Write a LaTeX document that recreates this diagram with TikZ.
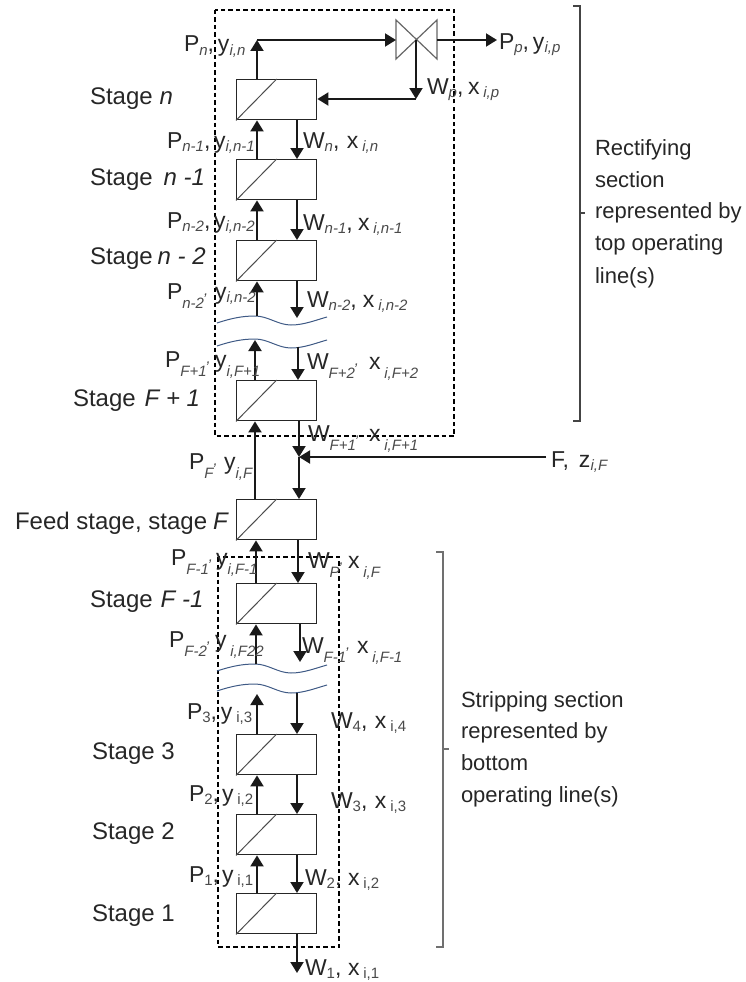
\documentclass[tikz,border=0pt]{standalone}
\usepackage{fontspec}
\setmainfont{Liberation Sans}
\usetikzlibrary{arrows.meta}
\definecolor{ink}{HTML}{262626}
\definecolor{subc}{HTML}{4A4A4A}
\definecolor{wavec}{HTML}{3F5A85}
\definecolor{bracec}{HTML}{444444}
\definecolor{bracel}{HTML}{707070}
\newcommand{\subfont}{\fontsize{15}{17}\selectfont\color{subc}}
\newcommand{\sbi}[1]{\raisebox{-0.32ex}{\subfont\itshape #1}}
\newcommand{\sbl}[1]{\raisebox{-0.75ex}{\subfont\itshape #1}}
\newcommand{\sbu}[1]{\raisebox{-0.32ex}{\subfont #1}}
\newcommand{\rcomma}{\raisebox{0.3ex}{\subfont\itshape ,}}
\newcommand{\pair}[3]{\makebox[#1pt][l]{#2}#3}
\tikzset{
  lbl/.style={anchor=base west,inner sep=0pt,outer sep=0pt,text=ink,font=\fontsize{23}{26}\selectfont},
  stagelbl/.style={lbl,font=\fontsize{24}{27}\selectfont},
  txt/.style={lbl,font=\fontsize{22}{25}\selectfont},
  stagebox/.style={draw=black!85,line width=1.4pt,fill=white,inner sep=0pt,minimum width=80pt,minimum height=40pt,anchor=north west},
  flow/.style={draw=black!90,line width=1.9pt,-{Triangle[length=11pt,width=13pt]}},
  dashbox/.style={draw=black,line width=1.2pt,dash pattern=on 4.5pt off 3pt},
  wave/.style={draw=wavec,line width=1pt},
  brace/.style={draw=bracec,line width=1.2pt},
  bracelight/.style={draw=bracel,line width=1.2pt},
  valve/.style={draw=black!60,line width=1.2pt,fill=white}
}
\begin{document}
\begin{tikzpicture}[x=1pt,y=-1pt]
\useasboundingbox (0,0) rectangle (746,982);
% x guides
\coordinate (U) at (257,0);
\coordinate (D) at (297,0);
% section frames
\draw[dashbox] (215,10) rectangle (454,436);
\draw[dashbox] (218,557) rectangle (339,947);
% stages
\foreach \nm/\yy in {bn/79,bna/159,bnb/240,bf1/380,bf/499,bfa/583,bc/734,bb/814,ba/893}{
  \node[stagebox] (\nm) at (236,\yy) {};
  \draw[line width=1pt,draw=black!70] (\nm.south west) -- (\nm.north);
}
% breaks
\foreach \o in {0,23,348,368}{
  \draw[wave,yshift=-\o pt] (217,323) .. controls (232,318) and (243,316) .. (255,316)
     .. controls (268,316) and (278,325) .. (291,325)
     .. controls (304,325) and (316,320) .. (327,317);
}
% valve
\coordinate (vc) at (416,40);
\coordinate (vl) at (396,40);
\coordinate (vr) at (437,40);
\draw[valve] (396,20) -- (437,59) -- (437,20) -- (396,59) -- cycle;
% junction coordinates
\coordinate (top) at (257,40);
\coordinate (ref) at (416,99);
\coordinate (ppend) at (497,40);
\coordinate (w1end) at (297,973);
\coordinate (fj) at (299,457);
\coordinate (fin) at (546,457);
\coordinate (w1) at (257,316);
\coordinate (w2) at (297,318);
\coordinate (w3) at (255,340);
\coordinate (w4) at (298,347);
\coordinate (w5) at (256,664);
\coordinate (w6) at (300,662);
\coordinate (w7) at (257,694);
\coordinate (w8) at (297,693);
% top connections
\draw[flow] (bn.north -| U) -- (top);
\draw[flow] (top) -- (vl);
\draw[flow] (vr) -- (ppend);
\draw[flow] (vc) -- (ref);
\draw[flow] (ref) -- (bn.east |- ref);
% rectifying
\draw[flow] (bna.north -| U) -- (bn.south -| U);
\draw[flow] (bn.south -| D) -- (bna.north -| D);
\draw[flow] (bnb.north -| U) -- (bna.south -| U);
\draw[flow] (bna.south -| D) -- (bnb.north -| D);
\draw[flow] (w1) -- (bnb.south -| U);
\draw[flow] (bnb.south -| D) -- (w2);
\draw[flow] (bf1.north -| w3) -- (w3);
\draw[flow] (w4) -- (bf1.north -| w4);
% feed
\draw[flow] (bf.north -| w3) -- (bf1.south -| w3);
\draw[flow] (bf1.south -| fj) -- (fj);
\draw[flow] (fj) -- (bf.north -| fj);
\draw[flow] (fin) -- (fj);
% stripping
\draw[flow] (bfa.north -| w5) -- (bf.south -| w5);
\draw[flow] (bf.south -| w4) -- (bfa.north -| w4);
\draw[flow] (w5) -- (bfa.south -| w5);
\draw[flow] (bfa.south -| w6) -- (w6);
\draw[flow] (bc.north -| U) -- (w7);
\draw[flow] (w8) -- (bc.north -| D);
\draw[flow] (bb.north -| U) -- (bc.south -| U);
\draw[flow] (bc.south -| D) -- (bb.north -| D);
\draw[flow] (ba.north -| U) -- (bb.south -| U);
\draw[flow] (bb.south -| D) -- (ba.north -| D);
\draw[flow] (ba.south -| D) -- (w1end);
% brackets
\draw[brace] (573,6) -- (580,6) -- (580,421) -- (573,421);
\draw[brace] (580,213) -- (585,213);
\draw[bracelight] (436,552) -- (443,552) -- (443,947) -- (436,947);
\draw[bracelight] (443,749) -- (449,749);
% stage names
\node[stagelbl] (sn)  at (90,104) {Stage\hspace{7pt}\textit{n}};
\node[stagelbl] (sna) at (90,185) {Stage\hspace{11pt}\textit{n -1}};
\node[stagelbl] (snb) at (90,264) {Stage\hspace{5pt}\textit{n - 2}};
\node[stagelbl] (sf1) at (73,406) {Stage\hspace{9pt}\textit{F + 1}};
\node[stagelbl] (sf)  at (15,529) {Feed stage, stage\hspace{6pt}\textit{F}};
\node[stagelbl] (sfa) at (90,607) {Stage\hspace{8pt}\textit{F -1}};
\node[stagelbl] (s3)  at (92,759) {Stage 3};
\node[stagelbl] (s2)  at (92,839) {Stage 2};
\node[stagelbl] (s1)  at (92,921) {Stage 1};
% vapour labels
\node[lbl] (pn)  at (184,52)  {\pair{34}{P\sbi{n},}{y\sbi{i,n}}};
\node[lbl] (pna) at (167,148) {\pair{47}{P\sbi{n-1},}{y\sbi{i,n-1}}};
\node[lbl] (pnb) at (167,228) {\pair{47}{P\sbi{n-2},}{y\sbi{i,n-2}}};
\node[lbl] (pnc) at (167,299) {\pair{48}{P\sbl{n-2}\rcomma}{y\sbi{i,n-2}}};
\node[lbl] (pf1) at (165,367) {\pair{50}{P\sbl{F+1}\rcomma}{y\sbl{i,F+1}}};
\node[lbl] (pf)  at (189,469) {\pair{35}{P\sbl{F}\rcomma}{y\sbl{i,F}}};
\node[lbl] (pfa) at (171,565) {\pair{45}{P\sbl{F-1}\rcomma}{y\sbl{i,F-1}}};
\node[lbl] (pfb) at (169,647) {\pair{46}{P\sbl{F-2}\rcomma}{y\,\sbl{i,F22}}};
\node[lbl] (p3)  at (187,719) {\pair{34}{P\sbu{3},}{y\,\sbu{i,3}}};
\node[lbl] (p2)  at (189,801) {\pair{33}{P\sbu{2},}{y\,\sbu{i,2}}};
\node[lbl] (p1)  at (189,882) {\pair{33}{P\sbu{1},}{y\,\sbu{i,1}}};
% liquid labels
\node[lbl] (wp)  at (427,94)  {\pair{41}{W\sbi{p},}{x\,\sbi{i,p}}};
\node[lbl] (wn)  at (303,148) {\pair{44}{W\sbi{n},}{x\,\sbi{i,n}}};
\node[lbl] (wna) at (303,230) {\pair{55}{W\sbi{n-1},}{x\,\sbi{i,n-1}}};
\node[lbl] (wnb) at (307,307) {\pair{56}{W\sbi{n-2},}{x\,\sbi{i,n-2}}};
\node[lbl] (wf2) at (307,369) {\pair{62}{W\sbl{F+2}\rcomma}{x\,\sbl{i,F+2}}};
\node[lbl] (wf1) at (308,441) {\pair{61}{W\sbl{F+1}\rcomma}{x\,\sbl{i,F+1}}};
\node[lbl] (wf)  at (308,568) {\pair{40}{W\sbl{P}\rcomma}{x\,\sbl{i,F}}};
\node[lbl] (wfa) at (302,653) {\pair{55}{W\sbl{F-1}\rcomma}{x\,\sbl{i,F-1}}};
\node[lbl] (w4l) at (331,728) {\pair{44}{W\sbu{4},}{x\,\sbu{i,4}}};
\node[lbl] (w3l) at (331,808) {\pair{44}{W\sbu{3},}{x\,\sbu{i,3}}};
\node[lbl] (w2l) at (305,885) {\pair{43}{W\sbu{2},}{x\,\sbu{i,2}}};
\node[lbl] (w1l) at (305,975) {\pair{43}{W\sbu{1},}{x\,\sbu{i,1}}};
% streams
\node[lbl] (ppl) at (499,49)  {\pair{34}{P\sbi{p},}{y\sbi{i,p}}};
\node[lbl] (fl)  at (551,467) {\pair{28}{F,}{z\sbi{i,F}}};
% section text
\node[txt] (ra) at (595,155) {Rectifying};
\node[txt] (rb) at (595,187) {section};
\node[txt] (rc) at (595,218) {represented by};
\node[txt] (rd) at (595,250) {top operating};
\node[txt] (re) at (595,283) {line(s)};
\node[txt] (sa) at (461,707) {Stripping section};
\node[txt] (sb) at (461,738) {represented by};
\node[txt] (sc) at (461,770) {bottom};
\node[txt] (sd) at (461,802) {operating line(s)};
\end{tikzpicture}
\end{document}
